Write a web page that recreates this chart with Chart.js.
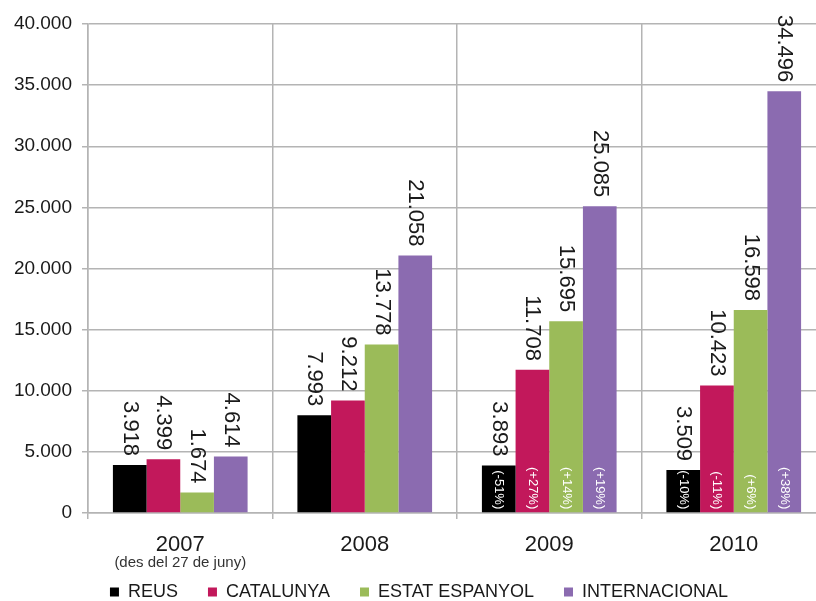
<!DOCTYPE html>
<html><head><meta charset="utf-8">
<script src="https://cdn.jsdelivr.net/npm/chart.js@4/dist/chart.umd.min.js"></script>
<style>html,body{margin:0;padding:0;background:#fff;overflow:hidden}#wrap{width:826px;height:601px;position:relative}</style>
</head><body><div id="wrap"><canvas id="c"></canvas></div>
<script>
const categories=['2007','2008','2009','2010'];
const subLabels=['(des del 27 de juny)','','',''];
const seriesNames=['REUS','CATALUNYA','ESTAT ESPANYOL','INTERNACIONAL'];
const reus=[3918,7993,3893,3509];
const catalunya=[4399,9212,11708,10423];
const estat=[1674,13778,15695,16598];
const internacional=[4614,21058,25085,34496];
const pctReus=[null,null,'-51%','-10%'];
const pctCatalunya=[null,null,'+27%','-11%'];
const pctEstat=[null,null,'+14%','+6%'];
const pctInternacional=[null,null,'+19%','+38%'];
const yMax=40000, yStep=5000;
const colors=['#000000','#c2185b','#9bbb59','#8b6bb0'];
const FONT='"Liberation Sans", Arial, sans-serif';
function fmt(n){return String(n).replace(/\B(?=(\d{3})+(?!\d))/g,'.');}
const seriesData=[reus,catalunya,estat,internacional];
const seriesPct=[pctReus,pctCatalunya,pctEstat,pctInternacional];
const labelPlugin={id:'vals',
afterLayout(chart){const L=chart.legend;if(L){L.left+=6;L.right+=6;}},
afterDatasetsDraw(chart){
  const ctx=chart.ctx;
  chart.data.datasets.forEach((ds,i)=>{
    const meta=chart.getDatasetMeta(i);
    meta.data.forEach((bar,j)=>{
      ctx.save();ctx.translate(bar.x,bar.y-9);ctx.rotate(Math.PI/2);
      ctx.textAlign='right';ctx.textBaseline='middle';ctx.font='22px '+FONT;ctx.fillStyle='#1a1a1a';
      ctx.fillText(fmt(ds.data[j]),0,0);ctx.restore();
      const p=seriesPct[i][j];
      if(p){ctx.save();ctx.translate(bar.x,bar.base-3);ctx.rotate(Math.PI/2);
        ctx.textAlign='right';ctx.textBaseline='middle';ctx.font='13px '+FONT;ctx.fillStyle='#ffffff';
        ctx.fillText('('+p+')',0,0);ctx.restore();}
    });
  });
},afterDraw(chart){
  const ctx=chart.ctx,xs=chart.scales.x;
  ctx.save();ctx.font='15px '+FONT;ctx.fillStyle='#333';ctx.textAlign='center';ctx.textBaseline='middle';
  subLabels.forEach((s,i)=>{if(s)ctx.fillText(s,xs.getPixelForValue(i),563);});
  ctx.restore();
}};
new Chart(document.getElementById('c'),{
  type:'bar',
  data:{labels:categories,datasets:seriesNames.map((n,i)=>({label:n,data:seriesData[i],backgroundColor:colors[i],borderWidth:0,barPercentage:1,categoryPercentage:0.73}))},
  options:{
    responsive:true,maintainAspectRatio:false,animation:false,
    layout:{padding:{top:24,right:0,left:0,bottom:-10}},
    plugins:{legend:{position:'bottom',labels:{boxWidth:9,boxHeight:9,font:{size:18,family:FONT},color:'#1a1a1a',padding:30}},tooltip:{enabled:false}},
    scales:{
      x:{grid:{offset:true,color:'#b4b4b4',lineWidth:1.5,tickLength:6},border:{color:'#b4b4b4',width:1.5},
        ticks:{font:{size:22,family:FONT},color:'#1a1a1a',padding:13},afterFit(s){s.height=40;}},
      y:{min:0,max:yMax,grid:{color:'#b4b4b4',lineWidth:1.5,tickLength:6},border:{color:'#b4b4b4',width:1.5},
        ticks:{stepSize:yStep,font:{size:19,family:FONT},color:'#1a1a1a',padding:10,callback:v=>fmt(v)},afterFit(s){s.width=88;}}
    }
  },
  plugins:[labelPlugin]
});
</script></body></html>
